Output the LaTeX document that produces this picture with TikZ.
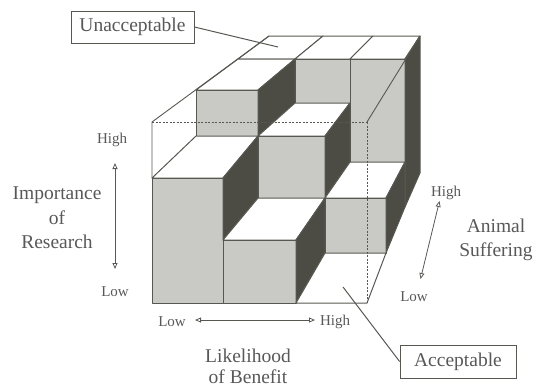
\documentclass[tikz,border=0pt]{standalone}
\usepackage{fontspec}
\setmainfont{Liberation Serif}
\usetikzlibrary{arrows.meta}
\definecolor{lgray}{RGB}{201,201,197}
\definecolor{dgray}{RGB}{76,76,69}
\definecolor{lc}{RGB}{88,88,82}
\definecolor{tc}{RGB}{88,88,88}
\tikzset{
  edge/.style={draw=lc, line width=1pt, line join=round},
  gface/.style={edge, fill=lgray},
  dface/.style={edge, fill=dgray},
  tface/.style={edge, fill=white},
  frame/.style={draw=lc, line width=0.9pt},
  hidden/.style={draw=lc, line width=0.9pt, dash pattern=on 2pt off 1.5pt},
  bigtxt/.style={text=tc, font=\fontsize{19.5}{24.5}\selectfont, align=center, inner sep=0pt},
  smalltxt/.style={text=tc, font=\fontsize{15}{18}\selectfont, inner sep=0pt},
  labelbox/.style={draw=lc, line width=0.8pt, text=tc, font=\fontsize{19.5}{24}\selectfont, inner sep=0pt},
  axisarrow/.style={draw=lc, line width=0.8pt, {Triangle[open,length=6pt,width=5pt]}-{Triangle[open,length=6pt,width=5pt]}},
  pointer/.style={draw=lc, line width=1pt}
}
\begin{document}
\begin{tikzpicture}[x=1pt,y=-1pt]
\useasboundingbox (0,0) rectangle (533,388);
\def\XS{{152,223,296,367, 196,258,325,386, 238,295,350,405, 269,323,373,420}}
\def\YS{{303,240,178,122, 253,198,136,90, 207,162,103,59, 173,127,80,36}}
\foreach \z in {0,...,3}{\foreach \x in {0,...,3}{\foreach \y in {0,...,3}{
  \pgfmathsetmacro\px{\XS[4*\z+\x]}
  \pgfmathsetmacro\py{\YS[4*\z+\y]}
  \coordinate (p\x\y\z) at (\px,\py);
}}}
% ---- row z=2 (back)
\path[tface] (p032)--(p132)--(p133)--(p033)--cycle;
\path[tface] (p132)--(p232)--(p233)--(p133)--cycle;
\path[gface] (p122)--(p222)--(p232)--(p132)--cycle;
\path[tface] (p232)--(p332)--(p333)--(p233)--cycle;
\path[gface] (p212)--(p312)--(p332)--(p232)--cycle;
\path[dface] (p302)--(p332)--(p333)--(p303)--cycle;
% ---- row z=1
\path[tface] (p031)--(p131)--(p132)--(p032)--cycle;
\path[gface] (p021)--(p121)--(p131)--(p031)--cycle;
\path[dface] (p121)--(p131)--(p132)--(p122)--cycle;
\path[tface] (p121)--(p221)--(p222)--(p122)--cycle;
\path[gface] (p111)--(p211)--(p221)--(p121)--cycle;
\path[dface] (p211)--(p221)--(p222)--(p212)--cycle;
\path[tface] (p211)--(p311)--(p312)--(p212)--cycle;
\path[gface] (p201)--(p301)--(p311)--(p211)--cycle;
\path[dface] (p301)--(p311)--(p312)--(p302)--cycle;
% ---- row z=0 (front)
\path[tface] (p020)--(p120)--(p121)--(p021)--cycle;
\path[gface] (p000)--(p100)--(p120)--(p020)--cycle;
\path[dface] (p110)--(p120)--(p121)--(p111)--cycle;
\path[tface] (p110)--(p210)--(p211)--(p111)--cycle;
\path[gface] (p100)--(p200)--(p210)--(p110)--cycle;
\path[dface] (p200)--(p210)--(p211)--(p201)--cycle;
\path[tface] (p200)--(p300)--(p301)--(p201)--cycle;
% ---- outline of the whole cube
\draw[hidden] (p030) -- (p330);
\draw[hidden] (p330) -- (p300);
\draw[frame] (p020) -- (p030) -- (p033);
\draw[frame] (p330) -- (p333);
% ---- labels with pointers
\node[labelbox, minimum width=123pt, minimum height=32pt] (un) at (132.5,27) {Unacceptable};
\coordinate (unp) at (278,47);
\draw[pointer] (un.east) -- (unp);
\node[labelbox, minimum width=116pt, minimum height=33pt] (ac) at (458,361.5) {Acceptable};
\coordinate (acp) at (343,287);
\draw[pointer] (acp) -- (ac.west);
% ---- importance axis
\node[bigtxt] (imp) at (57,218) {Importance\\of\\Research};
\node[smalltxt] (ih) at (112,140) {High};
\node[smalltxt] (il) at (115,292) {Low};
\coordinate (iat) at (115,163);
\coordinate (iab) at (115,269);
\draw[axisarrow] (iab) -- (iat);
% ---- benefit axis
\node[smalltxt] (bl) at (172,322) {Low};
\node[smalltxt] (bh) at (335,322) {High};
\coordinate (bal) at (195,320);
\coordinate (bah) at (315,320);
\draw[axisarrow] (bal) -- (bah);
\node[bigtxt, font=\fontsize{19.5}{21}\selectfont] (ben) at (248,366) {Likelihood\\of Benefit};
% ---- suffering axis
\node[smalltxt] (sh) at (446,193) {High};
\node[smalltxt] (sl) at (414,297) {Low};
\coordinate (sat) at (439.5,201);
\coordinate (sab) at (420.5,279);
\draw[axisarrow] (sab) -- (sat);
\node[bigtxt] (suf) at (496,240) {Animal\\Suffering};
\end{tikzpicture}
\end{document}
